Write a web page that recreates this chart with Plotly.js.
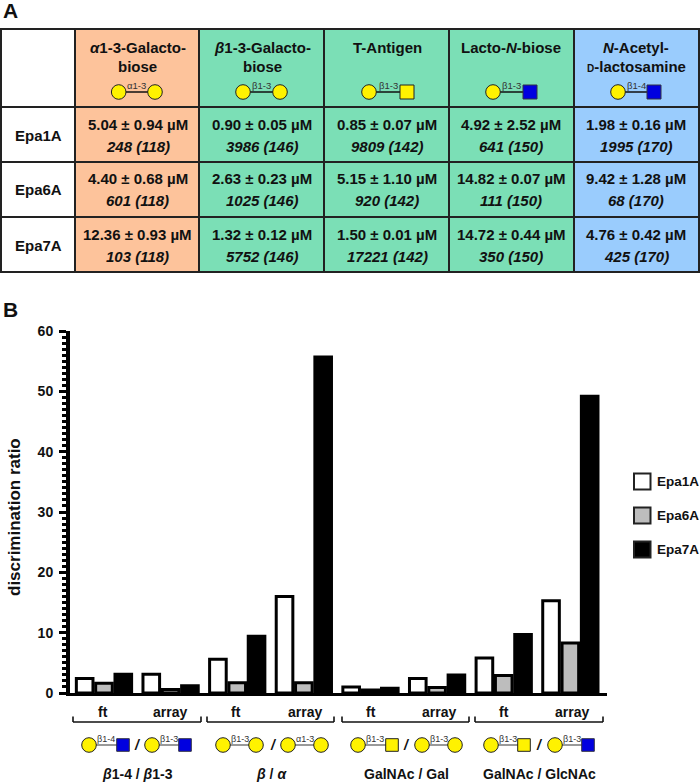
<!DOCTYPE html>
<html><head><meta charset="utf-8">
<script src="https://cdn.plot.ly/plotly-3.0.1.min.js"></script>
<style>html,body{margin:0;padding:0;background:#fff}</style></head>
<body><div id="chart" style="width:700px;height:783px"></div>
<script>
// ---- chart data ----
const series = ['Epa1A','Epa6A','Epa7A'];
const groups = ['ft','array','ft','array','ft','array','ft','array'];
const epa1A = [2.4,3.1,5.6,16.0,1.0,2.4,5.8,15.3];
const epa6A = [1.6,0.6,1.7,1.7,0.5,0.9,2.9,8.3];
const epa7A = [3.1,1.2,9.4,55.7,0.8,3.0,9.7,49.2];
const barFills = ['#ffffff','#bdbdbd','#000000'];
const yTicks = [0,10,20,30,40,50,60];
const comparisons = ['<i>β</i>1-4 / <i>β</i>1-3','<i>β</i> / <i>α</i>','GalNAc / Gal','GalNAc / GlcNAc'];
// ---- table data ----
const colHeads = [['<i>α</i>1-3-Galacto-','biose'],['<i>β</i>1-3-Galacto-','biose'],['T-Antigen'],['Lacto-<i>N</i>-biose'],['<i>N</i>-Acetyl-','<span style="font-size:10px">D</span>-lactosamine']];
const rowHeads = ['Epa1A','Epa6A','Epa7A'];
const kd1 = ['5.04 ± 0.94 µM','0.90 ± 0.05 µM','0.85 ± 0.07 µM','4.92 ± 2.52 µM','1.98 ± 0.16 µM'];
const kd6 = ['4.40 ± 0.68 µM','2.63 ± 0.23 µM','5.15 ± 1.10 µM','14.82 ± 0.07 µM','9.42 ± 1.28 µM'];
const kd7 = ['12.36 ± 0.93 µM','1.32 ± 0.12 µM','1.50 ± 0.01 µM','14.72 ± 0.44 µM','4.76 ± 0.42 µM'];
const fl1 = ['248 (118)','3986 (146)','9809 (142)','641 (150)','1995 (170)'];
const fl6 = ['601 (118)','1025 (146)','920 (142)','111 (150)','68 (170)'];
const fl7 = ['103 (118)','5752 (146)','17221 (142)','350 (150)','425 (170)'];
const colFills = ['#ffffff','#fdc39b','#7bdfb6','#7bdfb6','#7bdfb6','#9accfd'];

const W=700,H=783;
const px=x=>x/W, py=y=>1-y/H;
const FONT='"Liberation Sans",Arial,sans-serif';
const ink='#111';

const shapes=[],annotations=[];
function text(x,y,t,size,opt){annotations.push(Object.assign({xref:'paper',yref:'paper',x:px(x),y:py(y),text:t,showarrow:false,
  font:{family:FONT,size:size,color:ink,weight:700},xanchor:'center',yanchor:'middle'},opt||{}));}
function seg(x0,y0,x1,y1,c,w){shapes.push({type:'line',xref:'paper',yref:'paper',x0:px(x0),y0:py(y0),x1:px(x1),y1:py(y1),line:{color:c,width:w}});}
function circ(cx,cy,r){shapes.push({type:'circle',xref:'paper',yref:'paper',x0:px(cx-r),x1:px(cx+r),y0:py(cy-r),y1:py(cy+r),fillcolor:'#fff200',line:{color:'#222',width:1}});}
function sq(cx,cy,r,c){shapes.push({type:'rect',xref:'paper',yref:'paper',x0:px(cx-r),x1:px(cx+r),y0:py(cy-r),y1:py(cy+r),fillcolor:c,line:{color:c==='#0000e0'?'#334':'#222',width:1}});}
function glycan(x1,x2,y,kind,label,lc,ls,r){
  seg(x1,y,x2,y,lc,1.3);
  circ(x1,y,7.3);
  if(kind==='c')circ(x2,y,7.3); else sq(x2,y,r,kind==='y'?'#fff200':'#0000e0');
  text((x1+x2)/2,y-6.5,label,ls,{font:{family:FONT,size:ls,color:'#333',weight:400}});
}
// table text
const colX=[137.5,262,387,511,636];
const rowY=[[124,146],[178,200],[234,256]];
colHeads.forEach((ls,c)=>ls.forEach((l,i)=>text(colX[c],48+19*i,l,15)));
rowHeads.forEach((r,i)=>text(38,rowY[i][0]+11,r,15));
[[kd1,fl1],[kd6,fl6],[kd7,fl7]].forEach((row,r)=>colX.forEach((x,c)=>{
  text(x,rowY[r][0],row[0][c],15);
  text(x,rowY[r][1],'<i>'+row[1][c]+'</i>',15);
}));
// header glycans
glycan(118.7,155,92,'c','α1-3',ink,9.5,7);
glycan(243,280,92,'c','β1-3',ink,9.5,7);
glycan(369,407,92,'y','β1-3',ink,9.5,7);
glycan(493,530,92,'b','β1-3',ink,9.5,7);
glycan(618,654,92,'b','β1-4',ink,9.5,7);
// lower glycans
const gy=745,lg='#777';
glycan(89,123,gy,'b','β1-4',lg,9,6.3);
glycan(152,185,gy,'b','β1-3',lg,9,6.3);
glycan(223,256,gy,'c','β1-3',lg,9,6.3);
glycan(288,321,gy,'c','α1-3',lg,9,6.3);
glycan(358,392,gy,'y','β1-3',lg,9,6.3);
glycan(422,455,gy,'c','β1-3',lg,9,6.3);
glycan(491,524,gy,'y','β1-3',lg,9,6.3);
glycan(555,588,gy,'b','β1-3',lg,9,6.3);
[137,273,406,539].forEach(x=>text(x,gy,'<i>/</i>',14));
// brackets
[[73,201],[207,334],[342,469],[475,603]].forEach(b=>{
  seg(b[0],722,b[1],722,ink,1.6);seg(b[0],716.5,b[0],722,ink,1.6);seg(b[1],716.5,b[1],722,ink,1.6);
});
[103,170,236,305,371,439,504,572].forEach((x,i)=>text(x,712,groups[i],14));
[137,271,406,539].forEach((x,i)=>text(x,774,comparisons[i],14));
// panel letters
text(1,11,'A',21,{xanchor:'left'});
text(1,310,'B',21,{xanchor:'left'});
// y title
text(14,517,'discrimination ratio',17,{textangle:-90});
// legend
[481.5,515.5,549.5].forEach((y,i)=>{
  shapes.push({type:'rect',xref:'paper',yref:'paper',x0:px(634),x1:px(650.5),y0:py(y-8),y1:py(y+8),fillcolor:barFills[i],line:{color:'#222',width:2}});
  text(655,y,series[i],13.5,{xanchor:'left'});
});

const bar=(name,y,c)=>({type:'bar',name:name,x:[0,1,2,3,4,5,6,7],y:y,marker:{color:c,line:{color:'#000',width:3}},xaxis:'x',yaxis:'y',showlegend:false});
const blank=[0,1,2,3,4,5].map(()=>['','','']);
const table={type:'table',domain:{x:[px(1),px(699)],y:[py(273.5),py(28.5)]},columnwidth:[74,124,125,124,125,125],
  header:{values:colFills.map(()=>''),height:78,fill:{color:colFills},line:{color:'#222',width:2}},
  cells:{values:blank,height:55,fill:{color:colFills},line:{color:'#222',width:2}}};

const traces=[bar(series[0],epa1A,barFills[0]),bar(series[1],epa6A,barFills[1]),bar(series[2],epa7A,barFills[2]),table];
const layout={width:W,height:H,margin:{l:0,r:0,t:0,b:0},paper_bgcolor:'#fff',plot_bgcolor:'#fff',showlegend:false,
  barmode:'group',bargap:0.13,bargroupgap:0.14,
  font:{family:FONT,color:ink},
  xaxis:{domain:[px(70),px(607)],range:[-0.51,7.55],showticklabels:false,ticks:'',showgrid:false,zeroline:false,showline:true,linecolor:'#000',linewidth:3,anchor:'y'},
  yaxis:{domain:[py(693),py(331)],range:[0,60],tickvals:yTicks,ticks:'outside',ticklen:7,tickwidth:3,tickcolor:'#000',showline:true,linecolor:'#000',linewidth:4,showgrid:false,zeroline:false,
    minor:{dtick:1,ticks:'outside',ticklen:4,tickwidth:3,tickcolor:'#000',showgrid:false},
    ticklabelstandoff:3,
    tickfont:{family:FONT,size:14,color:ink,weight:700},anchor:'x'},
  shapes:shapes,annotations:annotations};
Plotly.newPlot('chart',traces,layout,{displayModeBar:false,staticPlot:true});
</script></body></html>
